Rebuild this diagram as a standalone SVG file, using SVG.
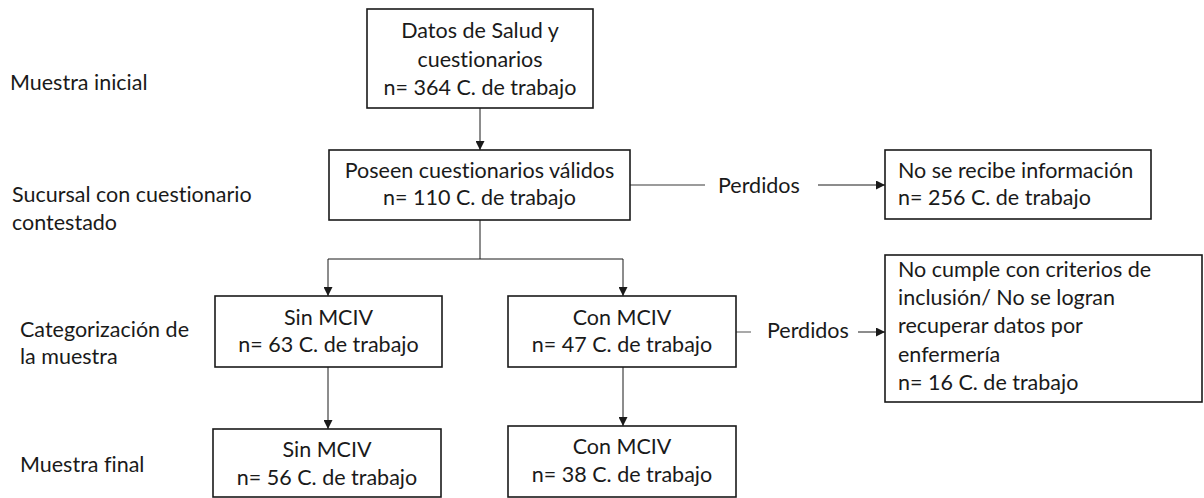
<svg xmlns="http://www.w3.org/2000/svg" width="1204" height="498" viewBox="0 0 1204 498">
<style>
text{font-family:Lato,"Open Sans",sans-serif;font-size:21.5px;fill:#1a1a1a;font-variant-ligatures:none}
.c{text-anchor:middle}
.box{fill:#fff;stroke:#1a1a1a;stroke-width:1.6}
.ln{fill:none;stroke:#1a1a1a;stroke-width:1}
.g{stroke:#7a7a7a;stroke-width:1.3}
</style>
<defs>
<marker id="ah" viewBox="0 0 10 10" refX="10" refY="5" markerWidth="9" markerHeight="9" markerUnits="userSpaceOnUse" orient="auto">
<path d="M0,0 L10,5 L0,10 z" fill="#1a1a1a"/>
</marker>
</defs>
<rect width="1204" height="498" fill="#fff"/>
<g id="labels">
<text x="10" y="90">Muestra inicial</text>
<text x="12" y="202">Sucursal con cuestionario</text>
<text x="12" y="230">contestado</text>
<text x="20" y="337">Categorización de</text>
<text x="20" y="364">la muestra</text>
<text x="20" y="472">Muestra final</text>
</g>
<g id="connectors">
<path class="ln" d="M480,108 V150" marker-end="url(#ah)"/>
<path class="ln g" d="M630,185 H705"/>
<text x="718" y="193">Perdidos</text>
<path class="ln" d="M818,185 H885" marker-end="url(#ah)"/>
<path class="ln" d="M480,220 V259 M328,259 H623"/>
<path class="ln" d="M328,259 V296" marker-end="url(#ah)"/>
<path class="ln" d="M623,259 V296" marker-end="url(#ah)"/>
<path class="ln" d="M328,367 V429" marker-end="url(#ah)"/>
<path class="ln" d="M623,367 V426" marker-end="url(#ah)"/>
<path class="ln g" d="M736,332 H751"/>
<text x="767" y="338">Perdidos</text>
<path class="ln" d="M858,332 H885" marker-end="url(#ah)"/>
</g>
<g id="n1">
<rect class="box" x="367" y="9" width="226" height="99"/>
<text class="c" x="480" y="38">Datos de Salud y</text>
<text class="c" x="480" y="67">cuestionarios</text>
<text class="c" x="480" y="95">n= 364 C. de trabajo</text>
</g>
<g id="n2">
<rect class="box" x="329" y="150" width="301" height="70"/>
<text class="c" x="479.5" y="178">Poseen cuestionarios válidos</text>
<text class="c" x="479.5" y="205">n= 110 C. de trabajo</text>
</g>
<g id="n3">
<rect class="box" x="885" y="150" width="266" height="69"/>
<text x="898" y="178">No se recibe información</text>
<text x="898" y="205">n= 256 C. de trabajo</text>
</g>
<g id="n4">
<rect class="box" x="215" y="296" width="227" height="71"/>
<text class="c" x="328.5" y="325">Sin MCIV</text>
<text class="c" x="328.5" y="352">n= 63 C. de trabajo</text>
</g>
<g id="n5">
<rect class="box" x="508" y="296" width="228" height="71"/>
<text class="c" x="622" y="325">Con MCIV</text>
<text class="c" x="622" y="352">n= 47 C. de trabajo</text>
</g>
<g id="n6">
<rect class="box" x="885" y="255" width="317" height="147"/>
<text x="898" y="277">No cumple con criterios de</text>
<text x="898" y="305">inclusión/ No se logran</text>
<text x="898" y="333">recuperar datos por</text>
<text x="898" y="362">enfermería</text>
<text x="898" y="390">n= 16 C. de trabajo</text>
</g>
<g id="n7">
<rect class="box" x="213" y="429" width="228" height="68"/>
<text class="c" x="327" y="457">Sin MCIV</text>
<text class="c" x="327" y="485">n= 56 C. de trabajo</text>
</g>
<g id="n8">
<rect class="box" x="508" y="426" width="228" height="71"/>
<text class="c" x="622" y="454">Con MCIV</text>
<text class="c" x="622" y="482">n= 38 C. de trabajo</text>
</g>
</svg>
